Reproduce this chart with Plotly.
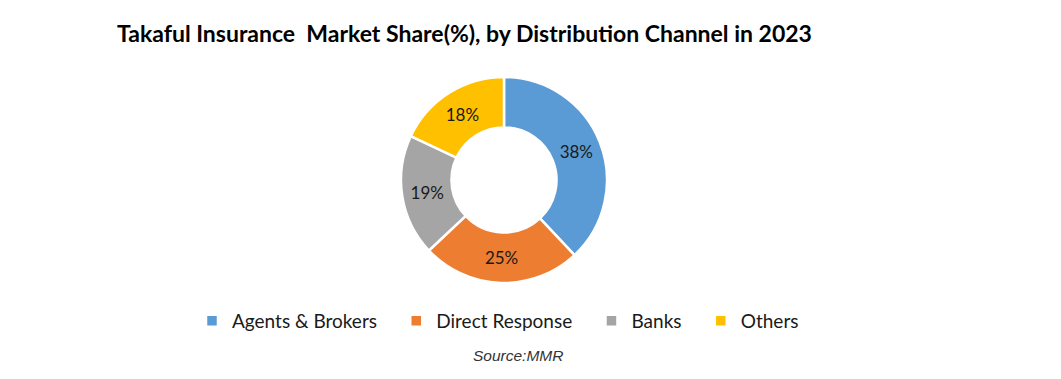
import plotly.graph_objects as go

categories = ["Agents & Brokers", "Direct Response", "Banks", "Others"]
shares = [38, 25, 19, 18]
colors = ["#5B9BD5", "#ED7D31", "#A5A5A5", "#FFC000"]

W, H = 1061, 379
cx, cy, r = 504, 180, 103

# em space after each name widens the legend gap between entries (as in the reference)
legend_labels = [c + "\u2003" for c in categories]

fig = go.Figure(go.Pie(
    labels=legend_labels,
    values=shares,
    hole=0.51,
    sort=False,
    direction="clockwise",
    rotation=0,
    marker=dict(colors=colors, line=dict(color="white", width=2.5)),
    texttemplate="%{value}%",
    textposition="inside",
    insidetextorientation="horizontal",
    textfont=dict(family="Lato, Open Sans, sans-serif", size=17, color="#1a1a1a"),
    domain=dict(x=[(cx - r) / W, (cx + r) / W], y=[1 - (cy + r) / H, 1 - (cy - r) / H]),
    hoverinfo="label+percent",
))

fig.update_layout(
    width=W, height=H,
    margin=dict(l=0, r=0, t=0, b=0),
    paper_bgcolor="white",
    plot_bgcolor="white",
    showlegend=True,
    legend=dict(
        orientation="h",
        x=505 / W, xanchor="center",
        y=1 - 321 / H, yanchor="middle",
        font=dict(family="Lato, Open Sans, sans-serif", size=19, color="#1a1a1a"),
        itemwidth=30,
        traceorder="normal",
    ),
    annotations=[
        dict(text="<b>Takaful Insurance  Market Share(%), by Distribution Channel in 2023</b>",
             x=115 / W, y=1 - 33 / H, xref="paper", yref="paper",
             xanchor="left", yanchor="middle", showarrow=False,
             font=dict(family="Lato, Open Sans, sans-serif", size=23, color="black")),
        dict(text="<i>Source:MMR</i>",
             x=518 / W, y=1 - 355 / H, xref="paper", yref="paper",
             xanchor="center", yanchor="middle", showarrow=False,
             font=dict(family="Liberation Sans, Arial, sans-serif", size=15.5, color="#333333")),
    ],
)

fig.write_html("out.html")
